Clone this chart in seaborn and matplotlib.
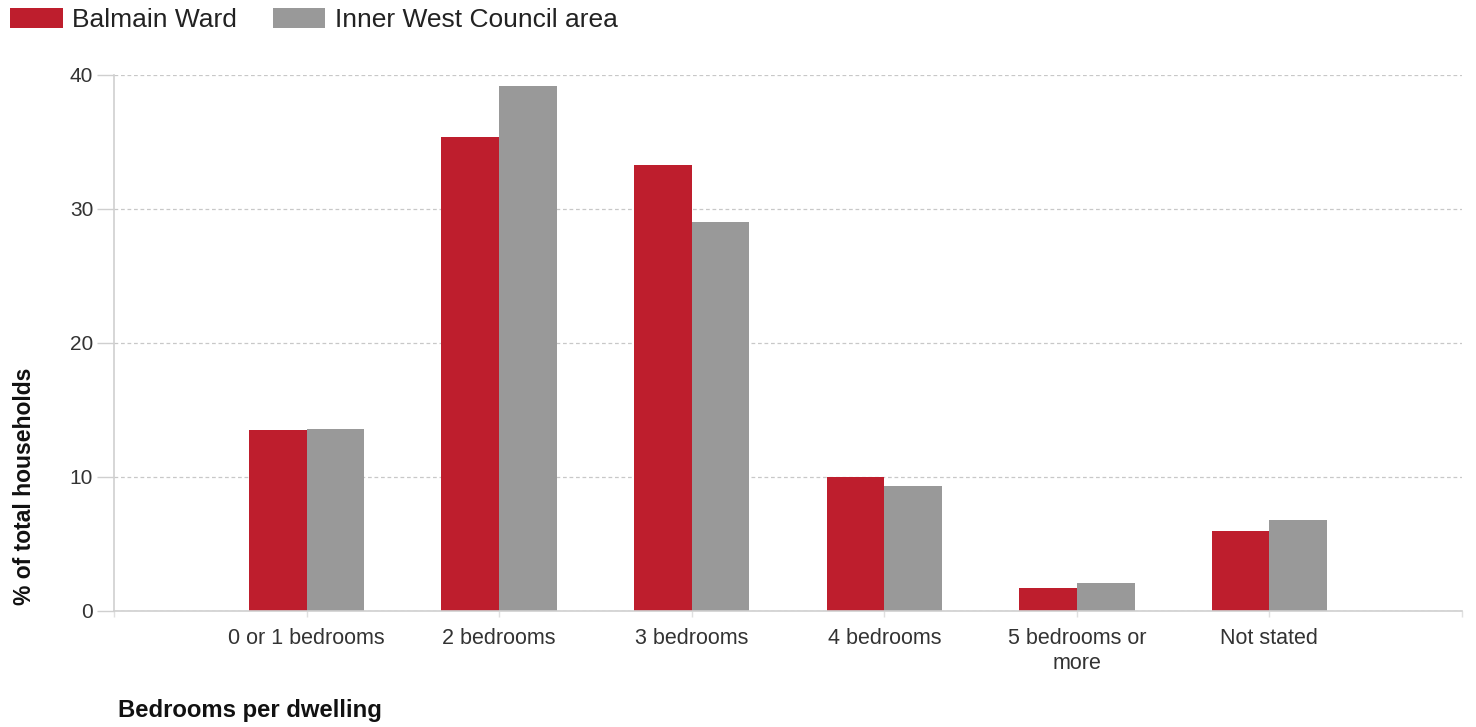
import pandas as pd
import matplotlib.pyplot as plt
import seaborn as sns

# --- Data ---
categories = ['0 or 1 bedrooms', '2 bedrooms', '3 bedrooms', '4 bedrooms',
              '5 bedrooms or\nmore', 'Not stated']
balmain = [13.5, 35.4, 33.3, 10.0, 1.7, 6.0]
inner_west = [13.6, 39.2, 29.0, 9.3, 2.1, 6.8]
series_names = ['Balmain Ward', 'Inner West Council area']
y_ticks = [0, 10, 20, 30, 40]

df = pd.DataFrame({
    'Bedrooms': categories * 2,
    'Percent': balmain + inner_west,
    'Area': [series_names[0]] * len(categories) + [series_names[1]] * len(categories),
})

# --- Style ---
sns.set_style("white")
plt.rcParams['font.family'] = ['Liberation Sans', 'DejaVu Sans']

red = '#BE1E2D'
grey = '#999999'
light = '#CFCFCF'

fig = plt.figure(figsize=(14.76, 7.27), dpi=100)
ax = fig.add_axes([114 / 1476, 1 - 611 / 727, (1462 - 114) / 1476, (611 - 75) / 727])

sns.barplot(data=df, x='Bedrooms', y='Percent', hue='Area', palette=[red, grey],
            width=0.6, saturation=1, errorbar=None, linewidth=0, ax=ax)

ax.set_xlim(-1, 6)
ax.set_ylim(0, 40)
ax.set_yticks(y_ticks)
ax.set_xticks(range(-1, 7))
ax.set_xticklabels([''] + categories + [''], linespacing=1.25)

ax.set_xlabel('')
ax.set_ylabel('')

# dashed horizontal grid
ax.yaxis.grid(True, color='#C8C8C8', linestyle=(0, (3, 2.2)), linewidth=0.9)
ax.set_axisbelow(True)

for side in ['top', 'right']:
    ax.spines[side].set_visible(False)
for side in ['left', 'bottom']:
    ax.spines[side].set_color(light)
    ax.spines[side].set_linewidth(1.2)

ax.tick_params(axis='y', length=12, width=1, color=light, pad=3,
               labelsize=15, labelcolor='#333333', left=True)
ax.tick_params(axis='x', length=4, width=1, color='#E0E0E0', pad=8,
               labelsize=15.5, labelcolor='#333333', bottom=True)

# axis titles
fig.text(25 / 1476, 1 - 486 / 727, '% of total households', rotation=90,
         ha='center', va='center', fontsize=16.5, fontweight='bold', color='#111111')
fig.text(118 / 1476, 1 - 711 / 727, 'Bedrooms per dwelling',
         ha='left', va='center', fontsize=17.2, fontweight='bold', color='#111111')

# legend on top left
handles, labels = ax.get_legend_handles_labels()
if ax.legend_ is not None:
    ax.legend_.remove()
fig.legend(handles, labels, loc='upper left', bbox_to_anchor=(10 / 1476, 1 - 8 / 727),
           ncol=2, frameon=False, fontsize=19, borderpad=0, borderaxespad=0,
           handlelength=2.0, handleheight=0.8, handletextpad=0.35,
           columnspacing=1.35, labelcolor='#222222')

plt.savefig('out.png', dpi=100)
